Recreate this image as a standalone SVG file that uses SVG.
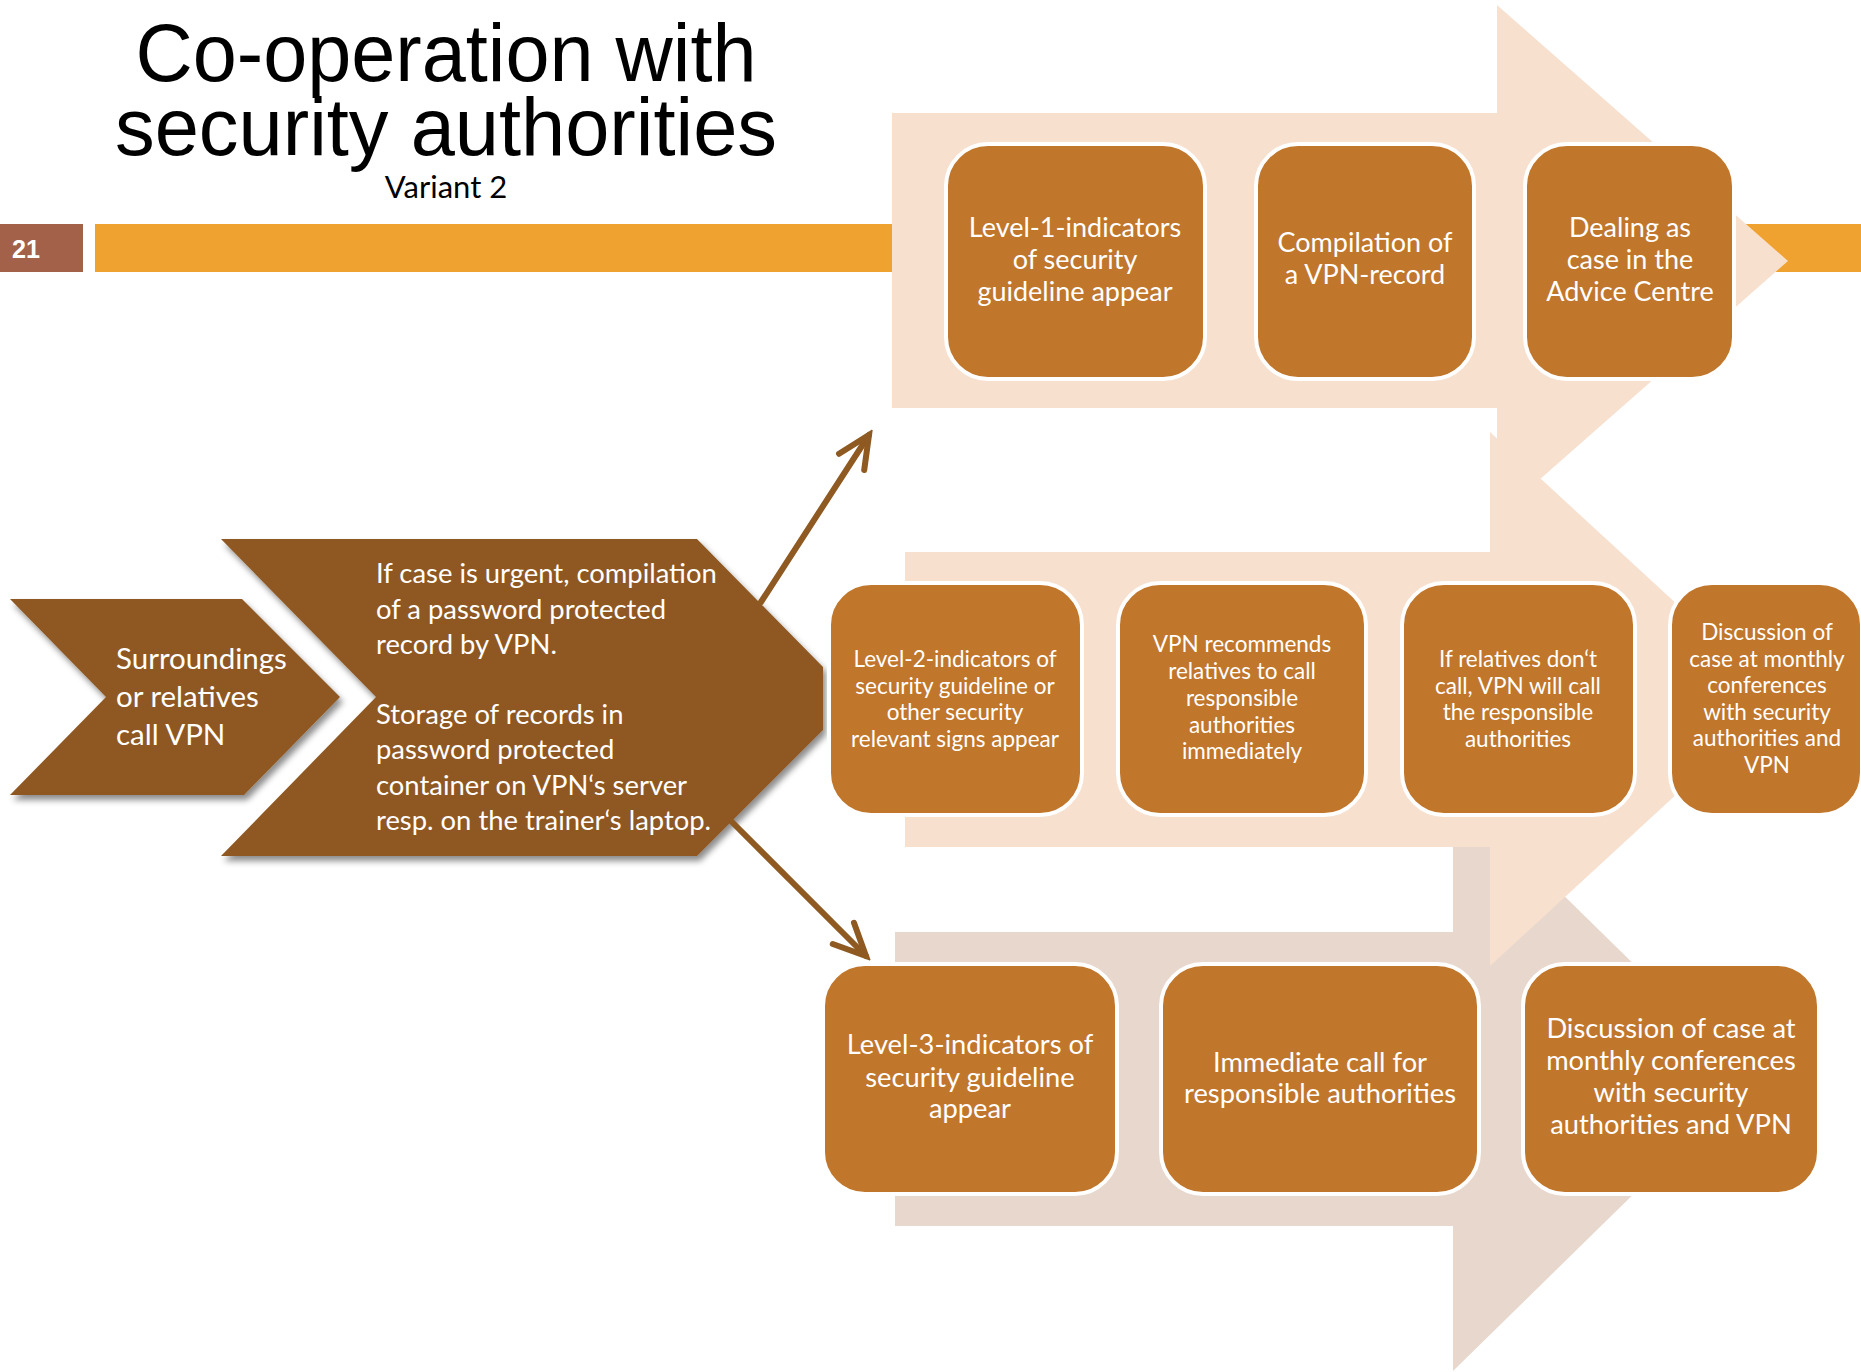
<svg xmlns="http://www.w3.org/2000/svg" width="1861" height="1372" viewBox="0 0 1861 1372">
<defs>
<style>
.title{font-family:"Liberation Sans",Arial,sans-serif;font-size:81px;fill:#000;text-anchor:middle}
.sub{font-family:Lato,"Open Sans",sans-serif;font-size:31px;fill:#000;text-anchor:middle}
.box{fill:#C0762B;stroke:#fff;stroke-width:4}
.chev{fill:#8F5922;filter:url(#sh)}
.t1{font-family:Lato,"Open Sans",sans-serif;font-size:27px;fill:#fff;text-anchor:middle}
.t2{font-family:Lato,"Open Sans",sans-serif;font-size:22.5px;fill:#fff;text-anchor:middle}
.t3{font-family:Lato,"Open Sans",sans-serif;font-size:27.3px;fill:#fff;text-anchor:middle}
.tc{font-family:Lato,"Open Sans",sans-serif;font-size:27.4px;fill:#fff}
.tb{font-family:Lato,"Open Sans",sans-serif;font-size:29.5px;fill:#fff}
.con{stroke:#8F5922;stroke-width:6;fill:none;stroke-linecap:round}
</style>
<filter id="sh" x="-10%" y="-10%" width="130%" height="130%">
<feDropShadow dx="3" dy="5" stdDeviation="3" flood-color="#000" flood-opacity="0.45"/>
</filter>
<marker id="ah" markerUnits="userSpaceOnUse" viewBox="-40 -22 46 44" refX="0" refY="0" markerWidth="46" markerHeight="44" orient="auto">
<path d="M-32,-15 L0,0 L-32,15" fill="none" stroke="#8F5922" stroke-width="6" stroke-linecap="round" stroke-linejoin="miter"/>
</marker>
</defs>
<rect width="1861" height="1372" fill="#fff"/>
<g id="title">
<text class="title" x="446" y="81" textLength="621" lengthAdjust="spacingAndGlyphs">Co-operation with</text>
<text class="title" x="446" y="155" textLength="662" lengthAdjust="spacingAndGlyphs">security authorities</text>
<text class="sub" x="446" y="198">Variant 2</text>
</g>
<g id="header-bar">
<rect x="0" y="224" width="83" height="48" fill="#A4614A"/>
<text x="12" y="258" font-family="Liberation Sans,Arial,sans-serif" font-weight="bold" font-size="26" fill="#fff" textLength="28" lengthAdjust="spacingAndGlyphs">21</text>
<rect x="95" y="224" width="1766" height="48" fill="#EFA22F"/>
</g>
<g id="band-level3">
<polygon points="895,932 1453,932 1453,787 1751,1079 1453,1371 1453,1226 895,1226" fill="#E8D7CC"/>
</g>
<g id="band-level2">
<polygon points="905,552 1490,552 1490,432 1780,699 1490,966 1490,847 905,847" fill="#F8E0CF"/>
</g>
<g id="band-level1">
<polygon points="892,113 1497,113 1497,5 1788,261 1497,517 1497,408 892,408" fill="#F8E0CF"/>
</g>
<g id="chevron-call">
<polygon class="chev" points="10,599 242,599 340,697 244,795 10,795 106,697"/>
<text class="tb" x="116" y="669">Surroundings</text>
<text class="tb" x="116" y="707">or relatives</text>
<text class="tb" x="116" y="745">call VPN</text>
</g>
<g id="chevron-record">
<polygon class="chev" points="221,539 697,539 823,667 823,730 697,856 221,856 376,697"/>
<text class="tc" x="376" y="583">If case is urgent, compilation</text>
<text class="tc" x="376" y="619">of a password protected</text>
<text class="tc" x="376" y="654">record by VPN.</text>
<text class="tc" x="376" y="724">Storage of records in</text>
<text class="tc" x="376" y="759">password protected</text>
<text class="tc" x="376" y="795">container on VPN‘s server</text>
<text class="tc" x="376" y="830">resp. on the trainer‘s laptop.</text>
</g>
<g id="connectors">
<line class="con" x1="761" y1="602" x2="869" y2="435" marker-end="url(#ah)"/>
<line class="con" x1="732" y1="822" x2="866" y2="956" marker-end="url(#ah)"/>
</g>
<g id="l1-indicators">
<rect class="box" x="946" y="144" width="259" height="235" rx="42"/>
<text class="t1" x="1075" y="237">Level-1-indicators</text>
<text class="t1" x="1075" y="269">of security</text>
<text class="t1" x="1075" y="301">guideline appear</text>
</g>
<g id="l1-record">
<rect class="box" x="1256" y="144" width="218" height="235" rx="42"/>
<text class="t1" x="1365" y="252">Compilation of</text>
<text class="t1" x="1365" y="284">a VPN-record</text>
</g>
<g id="l1-advice">
<rect class="box" x="1525" y="144" width="209" height="235" rx="42"/>
<text class="t1" x="1630" y="237">Dealing as</text>
<text class="t1" x="1630" y="269">case in the</text>
<text class="t1" x="1630" y="301">Advice Centre</text>
</g>
<g id="l2-indicators">
<rect class="box" x="829" y="583" width="253" height="232" rx="42"/>
<text class="t2" x="955" y="667">Level-2-indicators of</text>
<text class="t2" x="955" y="694">security guideline or</text>
<text class="t2" x="955" y="720">other security</text>
<text class="t2" x="955" y="747">relevant signs appear</text>
</g>
<g id="l2-recommend">
<rect class="box" x="1118" y="583" width="248" height="232" rx="42"/>
<text class="t2" x="1242" y="652">VPN recommends</text>
<text class="t2" x="1242" y="679">relatives to call</text>
<text class="t2" x="1242" y="706">responsible</text>
<text class="t2" x="1242" y="733">authorities</text>
<text class="t2" x="1242" y="759">immediately</text>
</g>
<g id="l2-vpn-calls">
<rect class="box" x="1402" y="583" width="233" height="232" rx="42"/>
<text class="t2" x="1518" y="667">If relatives don‘t</text>
<text class="t2" x="1518" y="694">call, VPN will call</text>
<text class="t2" x="1518" y="720">the responsible</text>
<text class="t2" x="1518" y="747">authorities</text>
</g>
<g id="l2-discussion">
<rect class="box" x="1670" y="583" width="192" height="232" rx="42"/>
<text class="t2" x="1767" y="640">Discussion of</text>
<text class="t2" x="1767" y="667">case at monthly</text>
<text class="t2" x="1767" y="693">conferences</text>
<text class="t2" x="1767" y="720">with security</text>
<text class="t2" x="1767" y="746">authorities and</text>
<text class="t2" x="1767" y="773">VPN</text>
</g>
<g id="l3-indicators">
<rect class="box" x="823" y="964" width="294" height="230" rx="42"/>
<text class="t3" x="970" y="1054">Level-3-indicators of</text>
<text class="t3" x="970" y="1087">security guideline</text>
<text class="t3" x="970" y="1118">appear</text>
</g>
<g id="l3-call">
<rect class="box" x="1161" y="964" width="318" height="230" rx="42"/>
<text class="t3" x="1320" y="1072">Immediate call for</text>
<text class="t3" x="1320" y="1103">responsible authorities</text>
</g>
<g id="l3-discussion">
<rect class="box" x="1523" y="964" width="296" height="230" rx="42"/>
<text class="t3" x="1671" y="1038">Discussion of case at</text>
<text class="t3" x="1671" y="1070">monthly conferences</text>
<text class="t3" x="1671" y="1102">with security</text>
<text class="t3" x="1671" y="1134">authorities and VPN</text>
</g>
</svg>
